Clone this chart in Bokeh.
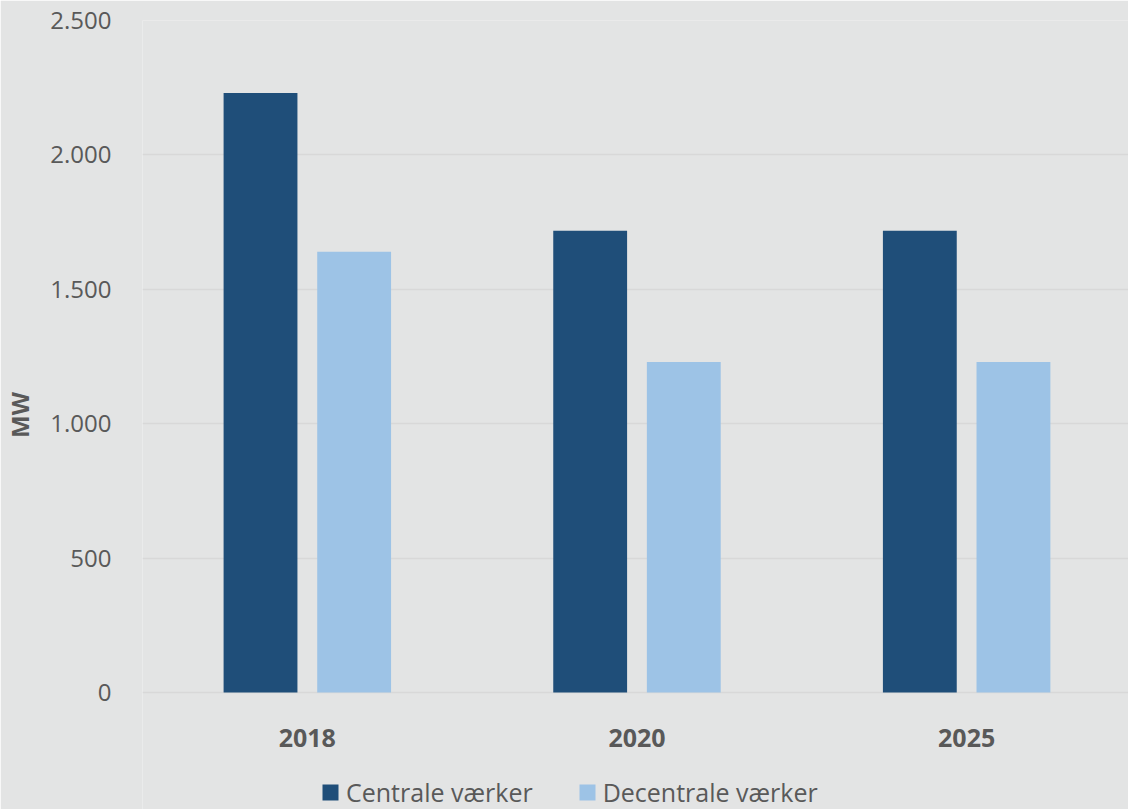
from bokeh.plotting import figure
from bokeh.models import Range1d, FixedTicker, Legend, LegendItem, ColumnDataSource
from bokeh.core.properties import value
from bokeh.embed import file_html
from bokeh.resources import INLINE

years = ["2018", "2020", "2025"]
centrale = [2230, 1718, 1718]
decentrale = [1640, 1230, 1230]
series_names = ["Centrale værker", "Decentrale værker"]
y_ticks = [0, 500, 1000, 1500, 2000, 2500]
y_tick_labels = ["0", "500", "1.000", "1.500", "2.000", "2.500"]

idx = list(range(len(years)))
src = ColumnDataSource(dict(xc=[i - 0.142 for i in idx], xd=[i + 0.142 for i in idx],
                            x=idx, c=centrale, d=decentrale, year=years,
                            base=[0] * len(years)))

FONT = "Open Sans"
TXT = "#595959"
BG = "#e3e4e4"

# frame spans to the page bottom; the strip below zero hosts year labels and legend
p = figure(width=1128, height=809, x_range=Range1d(-0.5, 2.491),
           y_range=Range1d(-435, 2500), output_backend="svg", toolbar_location=None,
           min_border_left=141, min_border_right=0, min_border_top=20, min_border_bottom=0)
p.background_fill_color = BG
p.border_fill_color = BG
p.outline_line_color = None
p.xaxis.visible = False

r1 = p.vbar(x="xc", top="c", width=0.224, source=src, fill_color="#1f4e79", line_color=None)
r2 = p.vbar(x="xd", top="d", width=0.224, source=src, fill_color="#9dc3e6", line_color=None)

p.text(x="x", y="base", text="year", source=src, y_offset=45, text_align="center",
       text_baseline="middle", text_font=value(FONT), text_font_size="25px",
       text_font_style="bold", text_color=TXT)

p.yaxis.ticker = FixedTicker(ticks=y_ticks)
p.yaxis.major_label_overrides = {t: l for t, l in zip(y_ticks, y_tick_labels)}
p.yaxis.axis_line_color = None
p.yaxis.major_tick_line_color = None
p.yaxis.minor_tick_line_color = None
p.yaxis.major_label_standoff = 25
p.yaxis.major_label_text_font = FONT
p.yaxis.major_label_text_font_size = "24px"
p.yaxis.major_label_text_color = TXT
p.yaxis.axis_label = "MW"
p.yaxis.axis_label_text_font = FONT
p.yaxis.axis_label_text_font_style = "bold"
p.yaxis.axis_label_text_font_size = "24px"
p.yaxis.axis_label_text_color = TXT
p.yaxis.axis_label_standoff = 11

p.xgrid.grid_line_color = None
p.ygrid.grid_line_color = "#d8d8d8"
p.ygrid.grid_line_width = 1.5

legend = Legend(items=[LegendItem(label=series_names[0], renderers=[r1]),
                       LegendItem(label=series_names[1], renderers=[r2])],
                orientation="horizontal", location=(178, 0))
legend.label_text_font = FONT
legend.label_text_font_size = "25px"
legend.label_text_color = TXT
legend.glyph_width = 20
legend.glyph_height = 20
legend.label_standoff = 6
legend.spacing = 44
legend.padding = 0
legend.margin = 0
legend.background_fill_alpha = 0
legend.border_line_alpha = 0
p.add_layout(legend, "center")

open("out.html", "w").write(file_html(p, INLINE))
